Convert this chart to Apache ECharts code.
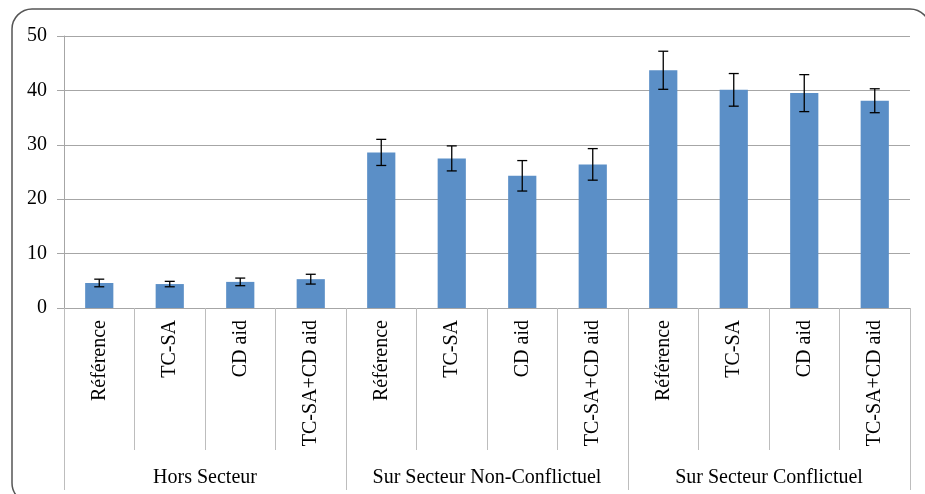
<!DOCTYPE html>
<html>
<head>
<meta charset="utf-8">
<script src="https://cdn.jsdelivr.net/npm/echarts@6/dist/echarts.min.js"></script>
<style>
  html, body { margin: 0; padding: 0; background: #fff; }
  #chart { width: 925px; height: 494px; }
</style>
</head>
<body>
<div id="chart"></div>
<script>
// categories
const conditions = ['Référence', 'TC-SA', 'CD aid', 'TC-SA+CD aid',
                    'Référence', 'TC-SA', 'CD aid', 'TC-SA+CD aid',
                    'Référence', 'TC-SA', 'CD aid', 'TC-SA+CD aid'];
const groups = ['Hors Secteur', 'Sur Secteur Non-Conflictuel', 'Sur Secteur Conflictuel'];

// mean values and error (+/-)
const means = [4.6, 4.4, 4.8, 5.3, 28.6, 27.5, 24.3, 26.4, 43.7, 40.1, 39.5, 38.1];
const errors = [0.7, 0.5, 0.7, 0.9, 2.4, 2.3, 2.8, 2.9, 3.5, 3.0, 3.4, 2.2];

const errorData = means.map((m, i) => [i, m - errors[i], m + errors[i]]);

const chart = echarts.init(document.getElementById('chart'));
const font = 'Liberation Serif';

chart.setOption({
    animation: false,
    textStyle: { fontFamily: font },
    graphic: [{
        type: 'rect',
        shape: { x: 12, y: 9, width: 918, height: 494, r: 20 },
        style: { fill: 'none', stroke: '#555', lineWidth: 1.5 },
        silent: true,
    }],
    grid: { left: 64, right: 15, top: 36, bottom: 186 },
    xAxis: [
        {
            type: 'category',
            data: conditions,
            axisLine: { lineStyle: { color: '#a6a6a6' } },
            axisTick: { show: true, length: 142, lineStyle: { color: '#bdbdbd' } },
            axisLabel: {
                rotate: 90,
                margin: 12,
                interval: 0,
                color: '#000',
                fontSize: 20,
                fontFamily: font,
            },
        },
        {
            type: 'category',
            data: groups,
            position: 'bottom',
            axisLine: { show: false },
            axisTick: { show: true, length: 182, lineStyle: { color: '#bdbdbd' } },
            axisLabel: {
                margin: 160,
                interval: 0,
                color: '#000',
                fontSize: 20,
                fontFamily: font,
            },
        },
    ],
    yAxis: {
        type: 'value',
        min: 0,
        max: 50,
        interval: 10,
        axisLine: { show: true, lineStyle: { color: '#a6a6a6' } },
        axisTick: { show: true, length: 7, lineStyle: { color: '#a6a6a6' } },
        axisLabel: { color: '#000', fontSize: 20, margin: 17, fontFamily: font },
        splitLine: { lineStyle: { color: '#a6a6a6' } },
    },
    series: [
        {
            type: 'bar',
            data: means,
            barWidth: '40%',
            itemStyle: { color: '#5b8fc7' },
        },
        {
            type: 'custom',
            data: errorData,
            z: 10,
            renderItem(params, api) {
                const x = api.value(0);
                const low = api.coord([x, api.value(1)]);
                const high = api.coord([x, api.value(2)]);
                const half = 5;
                const style = { stroke: '#000', lineWidth: 1.3 };
                return {
                    type: 'group',
                    children: [
                        { type: 'line', shape: { x1: high[0], y1: high[1], x2: low[0], y2: low[1] }, style },
                        { type: 'line', shape: { x1: high[0] - half, y1: high[1], x2: high[0] + half, y2: high[1] }, style },
                        { type: 'line', shape: { x1: low[0] - half, y1: low[1], x2: low[0] + half, y2: low[1] }, style },
                    ],
                };
            },
        },
    ],
});
</script>
</body>
</html>
